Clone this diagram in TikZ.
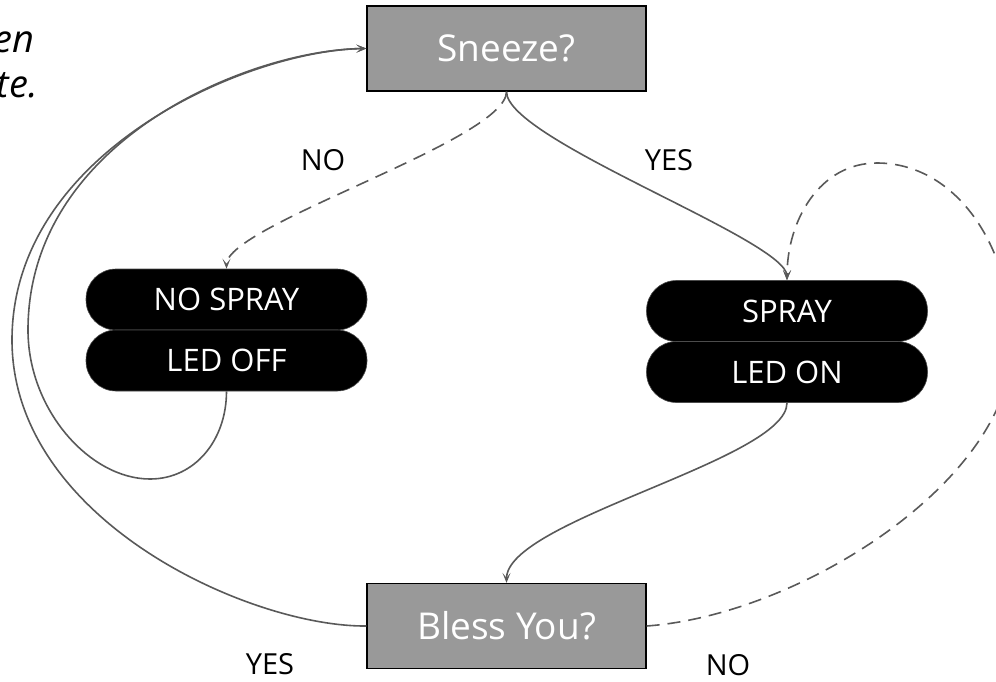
\documentclass[tikz,border=0pt]{standalone}
\usepackage{fontspec}
\setmainfont{Open Sans}
\usetikzlibrary{arrows.meta}
\begin{document}
\begin{tikzpicture}[x=1pt,y=-1pt,
  decision/.style={rectangle, draw=black, line width=1.3pt, fill=black!40, text=white,
    minimum width=279pt, minimum height=85pt, inner sep=0pt, font=\fontsize{37}{44}\selectfont},
  pill/.style={rectangle, rounded corners=30pt, fill=black, draw=black!70, line width=0.6pt,
    text=white, minimum width=281pt, minimum height=61pt, inner sep=0pt, font=\fontsize{31}{36}\selectfont},
  conn/.style={draw=black!65, line width=1.6pt, -{Stealth[length=10pt,width=8pt,inset=5pt]}},
  dashconn/.style={conn, dash pattern=on 13pt off 8pt},
  lbl/.style={font=\fontsize{29}{34}\selectfont, text=black, inner sep=0pt},
  note/.style={font=\fontsize{38}{44}\selectfont\itshape, text=black, inner sep=0pt, anchor=base east}]
\useasboundingbox (0,0) rectangle (996,681);
\clip (0,0) rectangle (996,681);

% partial note text
\node[note] (n1) at (35,52) {en};
\node[note] (n2) at (38,97) {te.};

% nodes
\node[decision] (sneeze) at (506.5,48.5) {Sneeze?};
\node[decision] (bless) at (506.5,626) {Bless You?};
\node[pill] (nospray) at (226.5,299.5) {NO SPRAY};
\node[pill] (ledoff) at (226.5,360.5) {LED OFF};
\node[pill] (spray) at (787,311) {SPRAY};
\node[pill] (ledon) at (787,372) {LED ON};

% labels
\node[lbl] (lno1) at (323,160) {NO};
\node[lbl] (lyes1) at (669,160) {YES};
\node[lbl] (lyes2) at (270,664) {YES};
\node[lbl] (lno2) at (728,665) {NO};

% connectors
\draw[dashconn] (sneeze.south) .. controls (506.5,140) and (226.5,225) .. (nospray.north);
\draw[conn] (sneeze.south) .. controls (506.5,140) and (787,240) .. (spray.north);
\draw[conn] (ledon.south) .. controls (787,460) and (506.5,520) .. (bless.north);
\draw[dashconn] (bless.east) .. controls (800,615) and (1012,480) .. (1012,345)
   .. controls (1012,245) and (955,163) .. (877,163)
   .. controls (820,163) and (787,220) .. (spray.north);
\draw[conn] (ledoff.south) .. controls (226.5,440) and (195,479) .. (150,479)
   .. controls (90,479) and (28,410) .. (28,330)
   .. controls (28,140) and (250,50) .. (sneeze.west);
\draw[conn] (bless.west) .. controls (250,627) and (12,520) .. (12,340)
   .. controls (12,150) and (250,50) .. (sneeze.west);
\end{tikzpicture}
\end{document}
